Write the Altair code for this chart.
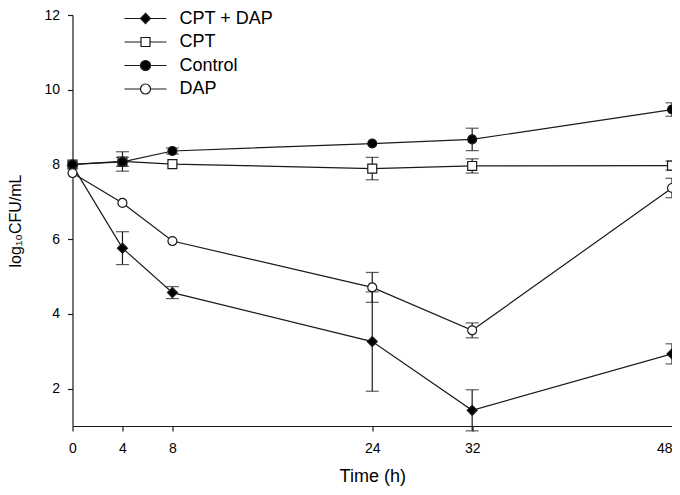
import altair as alt
import pandas as pd

# ---- data ----
times = [0, 4, 8, 24, 32, 48]
series_order = ["CPT + DAP", "CPT", "Control", "DAP"]

cpt_dap = [7.97, 5.76, 4.57, 3.26, 1.42, 2.93]
cpt_dap_err = [0.0, 0.44, 0.16, 1.33, 0.55, 0.27]

cpt = [8.00, 8.08, 8.01, 7.89, 7.96, 7.97]
cpt_err = [0.0, 0.26, 0.0, 0.30, 0.19, 0.12]

control = [8.00, 8.07, 8.36, 8.56, 8.67, 9.47]
control_err = [0.0, 0.12, 0.08, 0.0, 0.30, 0.18]

dap = [7.77, 6.97, 5.95, 4.71, 3.56, 7.37]
dap_err = [0.0, 0.0, 0.0, 0.40, 0.20, 0.26]

y_ticks = [2, 4, 6, 8, 10, 12]

# draw order (later = on top)
draw_order = [
    ("CPT", cpt, cpt_err),
    ("CPT + DAP", cpt_dap, cpt_dap_err),
    ("Control", control, control_err),
    ("DAP", dap, dap_err),
]

rows = []
for name, vals, errs in draw_order:
    for t, v, e in zip(times, vals, errs):
        rows.append(dict(series=name, time=t, value=v, err=e, lo=v - e, hi=v + e))
df = pd.DataFrame(rows)

# ---- styles ----
marker_shape = {"CPT + DAP": "diamond", "CPT": "square", "Control": "circle", "DAP": "circle"}
marker_fill = {"CPT + DAP": "black", "CPT": "white", "Control": "black", "DAP": "white"}
marker_size = {"CPT + DAP": 100, "CPT": 80, "Control": 80, "DAP": 80}

seg = "M-4.2,0H-1M1,0H4.2"
legend_paths = [
    seg + "M0,-1.05L1,0L0,1.05L-1,0Z",
    "M-4.2,0H-0.9M0.9,0H4.2M-0.9,-0.9H0.9V0.9H-0.9Z",
    seg + "M1,0A1,1,0,1,1,-1,0A1,1,0,1,1,1,0Z",
    seg + "M1,0A1,1,0,1,1,-1,0A1,1,0,1,1,1,0Z",
]
legend_fills = [marker_fill[s] for s in series_order]

INK = "#1a1a1a"
FONT = "Liberation Sans"

x_axis = alt.Axis(values=times, title="Time (h)", labelFlush=False, labelPadding=10, grid=False,
                  labelAlign={"expr": "datum.value == 48 ? 'right' : 'center'"},
                  titlePadding=12, titleFontSize=18, labelFontSize=14)
y_axis = alt.Axis(values=y_ticks, title="log₁₀CFU/mL", labelFlush=False, labelPadding=8, grid=False,
                  titlePadding=20, titleFontSize=16, labelFontSize=14)
x_scale = alt.Scale(domain=[0, 48], nice=False, zero=False)
y_scale = alt.Scale(domain=[1, 12], nice=False, zero=False)


def X():
    return alt.X("time:Q", scale=x_scale, axis=x_axis)


def Y(field):
    return alt.Y(f"{field}:Q", scale=y_scale, axis=y_axis)


base = alt.Chart(df)
errs = base.transform_filter("datum.err > 0")

rules = errs.mark_rule(color=INK, strokeWidth=1.2).encode(x=X(), y=Y("lo"), y2="hi:Q")
caps_lo = errs.mark_tick(orient="horizontal", size=13, thickness=1.2, color=INK).encode(x=X(), y=Y("lo"))
caps_hi = errs.mark_tick(orient="horizontal", size=13, thickness=1.2, color=INK).encode(x=X(), y=Y("hi"))

lines = base.mark_line(color=INK, strokeWidth=1.2).encode(
    x=X(), y=Y("value"), detail="series:N", order="time:Q"
)

point_layers = []
for name, _, _ in draw_order:
    point_layers.append(
        base.transform_filter(alt.datum.series == name)
        .mark_point(shape=marker_shape[name], filled=True, fill=marker_fill[name],
                    stroke=INK, strokeWidth=1.2, opacity=1, size=marker_size[name])
        .encode(x=X(), y=Y("value"))
    )

legend = alt.Legend(
    title=None, orient="none", legendX=64, legendY=-5.5,
    symbolSize=100, symbolStrokeWidth=1.2,
    labelFontSize=18, labelFont=FONT, labelColor="black", labelOffset=25,
    rowPadding=5.5, symbolOpacity=1,
)
legend_layer = (
    base.transform_filter("false")
    .mark_point(filled=False, strokeWidth=1.2, opacity=1)
    .encode(
        shape=alt.Shape("series:N", scale=alt.Scale(domain=series_order, range=legend_paths), legend=legend),
        fill=alt.Fill("series:N", scale=alt.Scale(domain=series_order, range=legend_fills), legend=legend),
        stroke=alt.Stroke("series:N", scale=alt.Scale(domain=series_order, range=[INK] * 4), legend=legend),
    )
)

chart = (
    alt.layer(rules, caps_lo, caps_hi, lines, *point_layers, legend_layer)
    .properties(width=599.5, height=411, autosize=alt.AutoSizeParams(type="none"),
                padding={"left": 64.5, "top": 7, "right": 0, "bottom": 61},
                background="white")
    .configure_view(stroke=None)
    .configure_axis(domainColor=INK, tickColor=INK, labelColor="black", titleColor="black",
                    labelFont=FONT, titleFont=FONT, titleFontWeight="normal", grid=False,
                    tickSize=5, domainWidth=1.2, tickWidth=1.2)
)

chart.save("out.html", embed_options={"renderer": "svg", "actions": False})
